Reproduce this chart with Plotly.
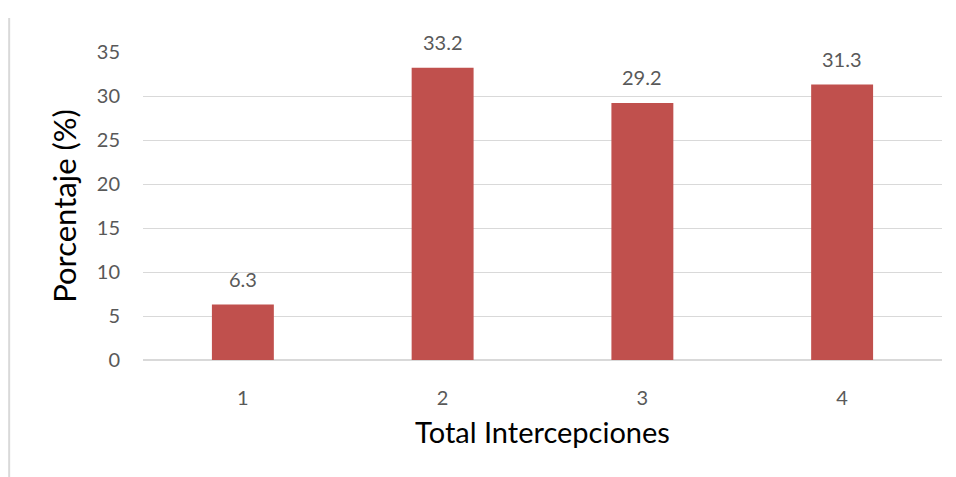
import plotly.graph_objects as go

categories = ["1", "2", "3", "4"]
values = [6.3, 33.2, 29.2, 31.3]
value_labels = ["6.3", "33.2", "29.2", "31.3"]
y_ticks = [0, 5, 10, 15, 20, 25, 30, 35]

bar_color = "#C0504D"
grid_color = "#D9D9D9"
font_family = "Lato, 'Open Sans', sans-serif"

fig = go.Figure()
fig.add_trace(go.Bar(
    x=categories, y=values, marker_color=bar_color,
    marker_line_width=0, hoverinfo="skip",
))

for i, (v, t) in enumerate(zip(values, value_labels)):
    fig.add_annotation(
        x=i, y=v, text=t, showarrow=False, yanchor="bottom",
        yshift=12, font=dict(family=font_family, size=20, color="#595959"),
    )

fig.add_shape(type="line", xref="paper", yref="paper",
              x0=-0.1675, x1=-0.1675, y0=1.11, y1=-0.38,
              line=dict(color="#D9D9D9", width=2))

fig.update_layout(
    width=956, height=477,
    margin=dict(l=143, r=14, t=52, b=117),
    paper_bgcolor="white", plot_bgcolor="white",
    bargap=0.69, showlegend=False,
    font=dict(family=font_family, color="#595959", size=20),
)
fig.update_xaxes(
    type="category", range=[-0.5, 3.5],
    ticks="outside", ticklen=20, tickcolor="rgba(0,0,0,0)",
    tickfont=dict(size=20, color="#595959"),
    showline=True, linecolor=grid_color, linewidth=1,
    title=dict(text="Total Intercepciones", standoff=14,
               font=dict(size=29, color="#000000")),
)
fig.update_yaxes(
    range=[0, 35], tickvals=y_ticks,
    showgrid=True, gridcolor=grid_color, gridwidth=1,
    zeroline=True, zerolinecolor=grid_color,
    ticks="outside", ticklen=18, tickcolor="rgba(0,0,0,0)",
    tickfont=dict(size=20, color="#595959"),
    title=dict(text="Porcentaje (%)", standoff=10,
               font=dict(size=31, color="#000000")),
)

fig.write_html("out.html")
